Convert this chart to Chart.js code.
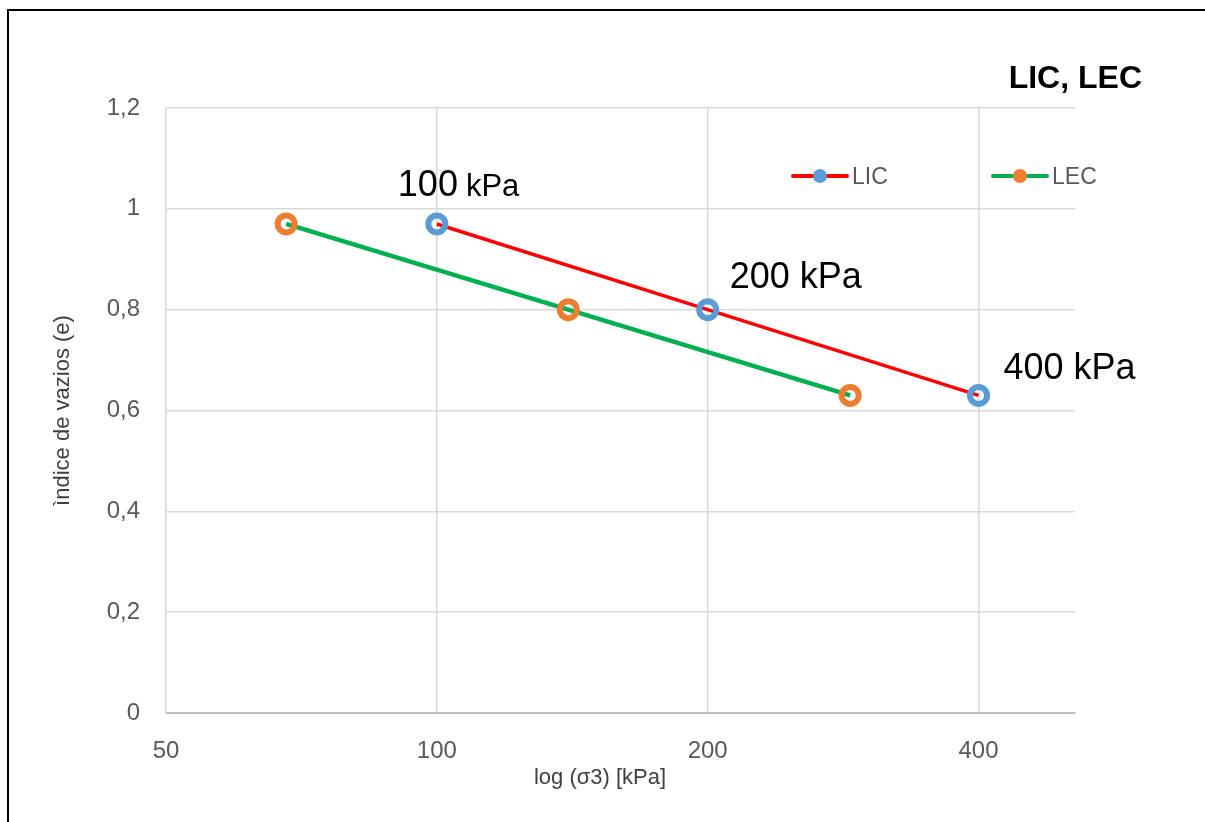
<!DOCTYPE html>
<html>
<head>
<meta charset="utf-8">
<script src="https://cdn.jsdelivr.net/npm/chart.js@4.4.0/dist/chart.umd.min.js"></script>
<style>
html,body{margin:0;padding:0;background:#fff;}
#wrap{position:relative;width:1205px;height:822px;}
canvas{display:block;}
</style>
</head>
<body>
<div id="wrap"><canvas id="c" width="1205" height="822"></canvas></div>
<script>
// ---- data ----
const licX = [100, 200, 400];
const licE = [0.97, 0.80, 0.63];
const lecX = [68, 140, 288];
const lecE = [0.97, 0.80, 0.63];
const xTicks = [50, 100, 200, 400];
const yTicks = [0, 0.2, 0.4, 0.6, 0.8, 1.0, 1.2];
const seriesNames = ['LIC', 'LEC'];
const pointLabels = ['100 kPa', '200 kPa', '400 kPa'];
const chartTitle = 'LIC, LEC';
const xTitle = 'log (\u03c33) [kPa]';
const yTitle = '\u00ecndice de vazios (e)';

const FONT = '"Liberation Sans", Arial, sans-serif';
const TICK_COLOR = '#595959';
const GRID = '#d9d9d9';

const overlay = {
  id: 'overlay',
  afterDraw(chart) {
    const ctx = chart.ctx;
    ctx.save();
    // outer frame (top + left)
    ctx.strokeStyle = '#000';
    ctx.lineWidth = 2;
    ctx.beginPath();
    ctx.moveTo(8, 822);
    ctx.lineTo(8, 10);
    ctx.lineTo(1205, 10);
    ctx.stroke();

    // title
    ctx.fillStyle = '#000';
    ctx.font = 'bold 32px ' + FONT;
    ctx.textAlign = 'right';
    ctx.textBaseline = 'alphabetic';
    ctx.fillText(chartTitle, 1142, 88);

    // legend
    const legX = [793, 993];
    chart.data.datasets.forEach((ds, i) => {
      const lx = legX[i], ly = 176;
      ctx.strokeStyle = ds.borderColor;
      ctx.lineWidth = 4;
      ctx.lineCap = 'round';
      ctx.beginPath();
      ctx.moveTo(lx, ly);
      ctx.lineTo(lx + 54, ly);
      ctx.stroke();
      ctx.fillStyle = ds.pointBorderColor;
      ctx.beginPath();
      ctx.arc(lx + 27, ly, 7, 0, Math.PI * 2);
      ctx.fill();
      ctx.fillStyle = TICK_COLOR;
      ctx.font = '23px ' + FONT;
      ctx.textAlign = 'left';
      ctx.fillText(ds.label, lx + 59, 184);
    });

    // axis titles
    const ca = chart.chartArea;
    ctx.fillStyle = '#404040';
    ctx.font = '22px ' + FONT;
    ctx.textAlign = 'center';
    ctx.textBaseline = 'middle';
    ctx.fillText(xTitle, 600, 778);
    ctx.save();
    ctx.translate(63, (ca.top + ca.bottom) / 2);
    ctx.rotate(-Math.PI / 2);
    ctx.fillText(yTitle, 0, 0);
    ctx.restore();

    // point labels on LIC
    const meta = chart.getDatasetMeta(0);
    const offs = [{dx: -39, dy: -28}, {dx: 22, dy: -22}, {dx: 25, dy: -16}];
    ctx.fillStyle = '#000';
    ctx.textAlign = 'left';
    ctx.textBaseline = 'alphabetic';
    pointLabels.forEach((txt, i) => {
      const p = meta.data[i];
      const x = p.x + offs[i].dx, y = p.y + offs[i].dy;
      if (i === 0) {
        const parts = txt.split(' ');
        ctx.font = '36px ' + FONT;
        ctx.fillText(parts[0], x, y);
        const w = ctx.measureText(parts[0] + ' ').width;
        ctx.font = '31px ' + FONT;
        ctx.fillText(parts[1], x + w - 2, y);
      } else {
        ctx.font = '36px ' + FONT;
        ctx.fillText(txt, x, y);
      }
    });
    ctx.restore();
  }
};

new Chart(document.getElementById('c'), {
  type: 'line',
  data: {
    datasets: [
      {
        label: seriesNames[0],
        data: licX.map((x, i) => ({x: x, y: licE[i]})),
        borderColor: '#ff0000',
        borderWidth: 3.5,
        pointRadius: 8.5,
        pointBorderWidth: 6,
        pointBorderColor: '#5b9bd5',
        pointBackgroundColor: 'rgba(255,255,255,0)',
        tension: 0
      },
      {
        label: seriesNames[1],
        data: lecX.map((x, i) => ({x: x, y: lecE[i]})),
        borderColor: '#00b050',
        borderWidth: 4.5,
        pointRadius: 8.5,
        pointBorderWidth: 6,
        pointBorderColor: '#ed7d31',
        pointBackgroundColor: 'rgba(255,255,255,0)',
        tension: 0
      }
    ]
  },
  options: {
    responsive: false,
    animation: false,
    devicePixelRatio: 1,
    events: [],
    layout: {padding: {top: 108, right: 130, left: 0, bottom: 0}},
    plugins: {legend: {display: false}, title: {display: false}, tooltip: {enabled: false}},
    scales: {
      x: {
        type: 'logarithmic',
        bounds: 'data',
        min: 50,
        max: 512,
        afterBuildTicks: s => { s.ticks = xTicks.map(v => ({value: v})); },
        afterFit: s => { s.height = 109; },
        ticks: {
          callback: v => String(v),
          font: {family: FONT, size: 24},
          color: TICK_COLOR,
          padding: 24,
          autoSkip: false,
          maxRotation: 0
        },
        grid: {color: GRID, lineWidth: 1.5, drawTicks: false},
        border: {color: '#bfbfbf', width: 2}
      },
      y: {
        type: 'linear',
        min: 0,
        max: 1.2,
        afterBuildTicks: s => { s.ticks = yTicks.map(v => ({value: v})); },
        afterFit: s => { s.width = 166; },
        ticks: {
          callback: v => String(Math.round(v * 10) / 10).replace('.', ','),
          font: {family: FONT, size: 24},
          color: TICK_COLOR,
          padding: 26
        },
        grid: {color: GRID, lineWidth: 1.5, drawTicks: false},
        border: {color: GRID, width: 1.5}
      }
    }
  },
  plugins: [overlay]
});
</script>
</body>
</html>
